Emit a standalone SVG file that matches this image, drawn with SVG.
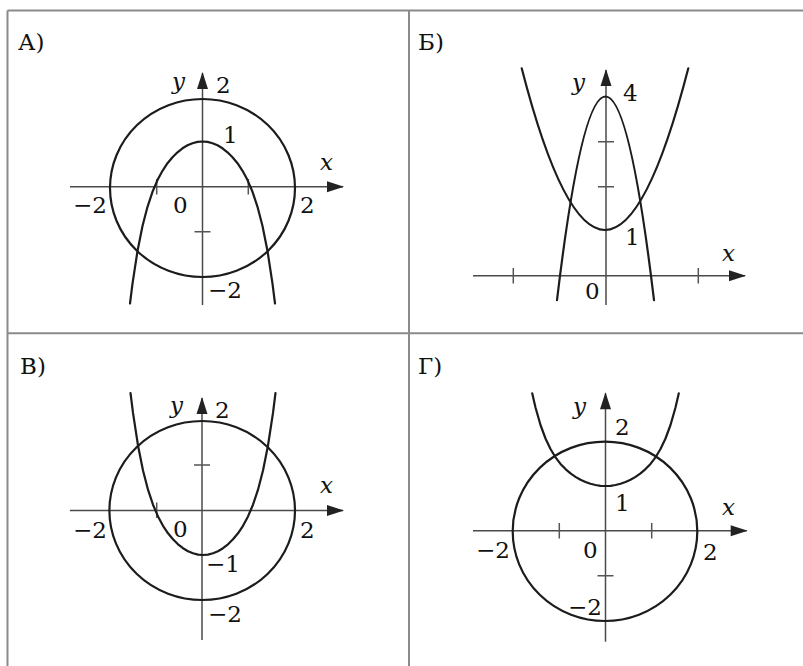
<svg xmlns="http://www.w3.org/2000/svg" width="803" height="666" viewBox="0 0 803 666">
<defs>
<style>
.frame{stroke:#8a8a8a;stroke-width:2;fill:none}
.axis{stroke:#4a4a4a;stroke-width:1.5;fill:none}
.tick{stroke:#555;stroke-width:1.5;fill:none}
.curve{stroke:#1c1c1c;stroke-width:2.2;fill:none;stroke-linejoin:round;stroke-linecap:round}
.lbl{font-family:"DejaVu Serif","Liberation Serif",serif;font-size:23px;fill:#111}
.var{font-style:italic}
.end{text-anchor:end}
</style>
<marker id="arr" markerUnits="userSpaceOnUse" markerWidth="20" markerHeight="14" viewBox="-18 -7 20 14" refX="0" refY="0" orient="auto">
<path d="M1,0 L-16,-5.5 L-16,5.5 Z" fill="#222"/>
</marker>
</defs>
<rect width="803" height="666" fill="#fff"/>

<g id="frame">
<line class="frame" x1="7.5" y1="10.5" x2="803" y2="10.5"/>
<line class="frame" x1="7.5" y1="10.5" x2="7.5" y2="666"/>
<line class="frame" x1="409" y1="10.5" x2="409" y2="666"/>
<line class="frame" x1="7.5" y1="333.3" x2="803" y2="333.3"/>
</g>

<g id="panel-a">
<line class="axis" x1="70" y1="186.7" x2="343" y2="186.7" marker-end="url(#arr)"/>
<line class="axis" x1="202.5" y1="305" x2="202.5" y2="73" marker-end="url(#arr)"/>
<path class="tick" d="M156.7,179 V194.5 M248.3,179 V194.5 M194.5,231.7 H210.5"/>
<ellipse class="curve" cx="202.5" cy="188" rx="92.5" ry="89"/>
<polyline class="curve" points="130,303.5 132.5,283.6 137.5,251 142.5,226 147.5,206.8 152.5,191.8 157.5,180.1 162.5,170.8 167.5,163.2 172.5,157.2 177.5,152.3 182.5,148.3 187.5,145.3 192.5,143.2 197.5,141.9 202.5,141.5 207.5,141.9 212.5,143.2 217.5,145.3 222.5,148.3 227.5,152.3 232.5,157.2 237.5,163.2 242.5,170.8 247.5,180.1 252.5,191.8 257.5,206.8 262.5,226 267.5,251 272.5,283.6 275,303.5"/>
<text class="lbl" x="18" y="50">А)</text>
<text class="lbl var" x="172" y="88.5">y</text>
<text class="lbl" x="216" y="93">2</text>
<text class="lbl" x="223" y="143">1</text>
<text class="lbl var" x="320" y="169.5">x</text>
<text class="lbl end" x="107" y="213">−2</text>
<text class="lbl" x="173" y="213">0</text>
<text class="lbl" x="300" y="213">2</text>
<text class="lbl end" x="242" y="297.5">−2</text>
</g>

<g id="panel-b">
<line class="axis" x1="473" y1="275.7" x2="745" y2="275.7" marker-end="url(#arr)"/>
<line class="axis" x1="606" y1="305" x2="606" y2="70" marker-end="url(#arr)"/>
<path class="tick" d="M513.3,268 V283.5 M698.3,268 V283.5 M598,141.7 H614 M598,186.7 H614"/>
<path class="curve" d="M557,300.2 Q605.5,-107.2 654,300.2"/>
<path class="curve" d="M521.7,68.3 Q605,391.7 688.3,68.3"/>
<text class="lbl" x="418" y="50">Б)</text>
<text class="lbl var" x="572" y="89.5">y</text>
<text class="lbl" x="623" y="101">4</text>
<text class="lbl" x="625" y="245">1</text>
<text class="lbl var" x="722" y="261">x</text>
<text class="lbl" x="585" y="299">0</text>
</g>

<g id="panel-c">
<line class="axis" x1="70" y1="510.5" x2="343" y2="510.5" marker-end="url(#arr)"/>
<line class="axis" x1="202" y1="640" x2="202" y2="398" marker-end="url(#arr)"/>
<path class="tick" d="M156.7,502.5 V518 M194,465 H210"/>
<ellipse class="curve" cx="202.2" cy="510.5" rx="92.8" ry="89.5"/>
<polyline class="curve" points="130.5,393 133,412.9 138,445.5 143,470.5 148,489.7 153,504.7 158,516.4 163,525.8 168,533.3 173,539.3 178,544.3 183,548.2 188,551.2 193,553.3 198,554.6 203,555 208,554.6 213,553.3 218,551.2 223,548.2 228,544.3 233,539.3 238,533.3 243,525.8 248,516.4 253,504.7 258,489.7 263,470.5 268,445.5 273,412.9 275.5,393"/>
<text class="lbl" x="20" y="374">В)</text>
<text class="lbl var" x="170" y="413">y</text>
<text class="lbl" x="215" y="418">2</text>
<text class="lbl var" x="320" y="493">x</text>
<text class="lbl end" x="107" y="538">−2</text>
<text class="lbl" x="173" y="537">0</text>
<text class="lbl" x="300" y="538">2</text>
<text class="lbl end" x="240" y="571.5">−1</text>
<text class="lbl end" x="242" y="621.5">−2</text>
</g>

<g id="panel-d">
<line class="axis" x1="473" y1="530.7" x2="746.7" y2="530.7" marker-end="url(#arr)"/>
<line class="axis" x1="605.5" y1="641.7" x2="605.5" y2="393.3" marker-end="url(#arr)"/>
<path class="tick" d="M559.3,523 V538.5 M651.7,523 V538.5 M597.5,575.7 H613.5"/>
<ellipse class="curve" cx="605" cy="531.3" rx="92.3" ry="89.7"/>
<polyline class="curve" points="532.2,393.3 535.5,407.5 540.5,425 545.5,438.5 550.5,449 555.5,457.3 560.5,463.9 565.5,469.1 570.5,473.4 575.5,476.9 580.5,479.8 585.5,482 590.5,483.8 595.5,485 600.5,485.8 605.5,486 610.5,485.8 615.5,485 620.5,483.8 625.5,482 630.5,479.8 635.5,476.9 640.5,473.4 645.5,469.1 650.5,463.9 655.5,457.3 660.5,449 665.5,438.5 670.5,425 675.5,407.5 678.8,393.3"/>
<text class="lbl" x="418" y="374">Г)</text>
<text class="lbl var" x="573" y="414">y</text>
<text class="lbl" x="615" y="435">2</text>
<text class="lbl" x="615" y="511">1</text>
<text class="lbl var" x="722" y="515">x</text>
<text class="lbl end" x="510" y="558">−2</text>
<text class="lbl" x="583" y="558">0</text>
<text class="lbl" x="703" y="560">2</text>
<text class="lbl end" x="602" y="615">−2</text>
</g>
</svg>
